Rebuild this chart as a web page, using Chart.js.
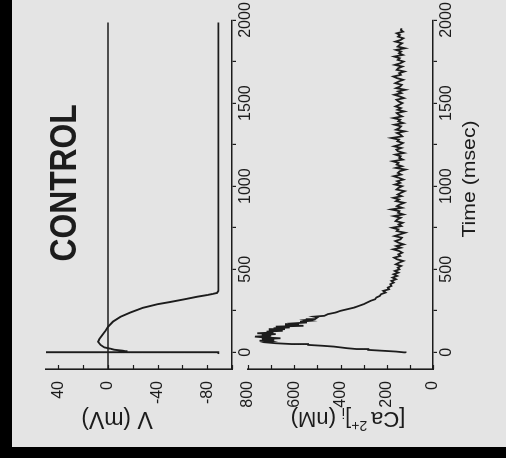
<!DOCTYPE html>
<html>
<head>
<meta charset="utf-8">
<script src="https://cdn.jsdelivr.net/npm/chart.js@4.4.1/dist/chart.umd.min.js"></script>
<style>
  html, body { margin: 0; padding: 0; background: #000; width: 506px; height: 458px; overflow: hidden; }
  /* the figure is laid out upright and then turned a quarter turn */
  #figure {
    position: absolute; left: 0; top: 0;
    width: 447px; height: 494px;
    background: #e4e4e4;
    transform-origin: 0 0;
    transform: translate(12px, 447px) rotate(-90deg);
  }
  #figure canvas { position: absolute; left: 0; top: 0; }
</style>
</head>
<body>
<div id="figure">
  <canvas id="vChart" width="447" height="494"></canvas>
  <canvas id="caChart" width="447" height="494"></canvas>
</div>
<script>
// membrane potential (ms, mV)
var vTime  = [-10, -1, 0, 1, 2, 4, 7, 10, 16, 22, 30, 45, 64, 80, 100, 130, 154, 185, 214, 240, 268, 290, 303, 320, 335, 345, 351, 358, 370, 1985];
var vValue = [-89, -89, 50, 25, -13, -15, -14, -12, -5, -2, 3, 6, 8, 7, 5, 2, 0, -4, -10, -18, -28, -40, -50, -62, -72, -80, -84, -88, -89, -89];

// 0 mV reference line
var zeroTime  = [-100, 1985];
var zeroValue = [0, 0];

// intracellular calcium (ms, nM)
var caTime = [
  -3, 0, 5, 10, 15, 20, 25, 30, 35, 40, 45, 50, 55, 60,
  65, 70, 75, 80, 85, 90, 95, 100, 105, 110, 115, 120, 125, 130, 135, 140,
  145, 150, 155, 160, 165, 170, 175, 180, 185, 190, 195, 200,
  210, 215, 220, 230, 240, 250, 260, 270, 280, 290, 300, 310, 320, 330, 340, 350,
  360, 370, 380, 390, 400, 410, 420, 430, 440, 450, 460, 470, 480, 490, 500,
  510, 520, 530, 540, 550, 560, 570, 580, 590, 600,
  610, 620, 630, 640, 650, 660, 670, 680, 690, 700,
  710, 720, 730, 740, 750, 760, 770, 780, 790, 800,
  810, 820, 830, 840, 850, 860, 870, 880, 890, 900,
  910, 920, 930, 940, 950, 960, 970, 980, 990, 1000,
  1010, 1020, 1030, 1040, 1050, 1060, 1070, 1080, 1090, 1100,
  1110, 1120, 1130, 1140, 1150, 1160, 1170, 1180, 1190, 1200,
  1210, 1220, 1230, 1240, 1250, 1260, 1270, 1280, 1290, 1300,
  1310, 1320, 1330, 1340, 1350, 1360, 1370, 1380, 1390, 1400,
  1410, 1420, 1430, 1440, 1450, 1460, 1470, 1480, 1490, 1500,
  1510, 1520, 1530, 1540, 1550, 1560, 1570, 1580, 1590, 1600,
  1610, 1620, 1630, 1640, 1650, 1660, 1670, 1680, 1690, 1700,
  1710, 1720, 1730, 1740, 1750, 1760, 1770, 1780, 1790, 1800,
  1810, 1820, 1830, 1840, 1850, 1860, 1870, 1880, 1890, 1900,
  1910, 1920, 1930, 1940, 1950
];
var caValue = [
  118, 125, 160, 220, 280, 330, 370, 400, 430, 480, 540, 610, 680, 720,
  700, 750, 690, 740, 660, 730, 770, 700, 740, 680, 760, 690, 720, 650, 710, 640,
  690, 620, 680, 560, 640, 580, 600, 545, 575, 530, 550, 510,
  500, 515, 470, 455, 420, 400, 370, 340, 320, 300, 285, 270, 250, 245, 230, 225,
  205, 215, 190, 195, 180, 185, 170, 180, 160, 175, 155, 170, 150, 165, 145,
  152, 138, 161, 147, 129, 155, 168, 142, 150, 133,
  146, 172, 139, 158, 127, 149, 163, 141, 135, 166,
  144, 121, 157, 150, 176, 137, 148, 131, 162, 154,
  140, 169, 128, 151, 145, 180, 134, 156, 143, 125,
  160, 147, 171, 136, 153, 139, 123, 158, 149, 134,
  165, 142, 155, 128, 147, 170, 138, 152, 144, 119,
  161, 135, 157, 149, 174, 131, 146, 140, 163, 126,
  151, 158, 137, 168, 143, 130, 154, 147, 179, 133,
  141, 156, 122, 160, 145, 138, 166, 129, 150, 142,
  171, 134, 148, 157, 124, 153, 139, 162, 145, 132,
  149, 158, 126, 144, 167, 137, 151, 120, 159, 142,
  135, 163, 148, 129, 155, 171, 139, 146, 124, 157,
  150, 133, 165, 141, 127, 152, 144, 168, 131, 147,
  138, 160, 122, 153, 145, 134, 162, 140, 128, 151,
  143, 157, 130, 139, 136
];

var timeTicks  = [0, 250, 500, 750, 1000, 1250, 1500, 1750, 2000];
var timeLabels = [0, 500, 1000, 1500, 2000];
var vTicks  = [-100, -80, -60, -40, -20, 0, 20, 40];
var vLabels = [-80, -40, 0, 40];
var caTicks  = [0, 100, 200, 300, 400, 500, 600, 700, 800];
var caLabels = [0, 200, 400, 600, 800];

var ink = '#1c1c1c';
var family = '"Liberation Sans", Arial, Helvetica, sans-serif';

function toPoints(xs, ys) {
    var pts = [];
    for (var i = 0; i < xs.length; i++) {
        pts.push({x: xs[i], y: ys[i]});
    }
    return pts;
}

function fixedTicks(list) {
    return function(scale) {
        scale.ticks = list.map(function(v) { return {value: v}; });
    };
}

function labelOnly(list) {
    return function(value) {
        return list.indexOf(value) >= 0 ? String(value) : '';
    };
}

// y axis tick marks point into the plot
var innerTicks = {
    id: 'innerTicks',
    afterDraw: function(chart) {
        var y = chart.scales.y, area = chart.chartArea, ctx = chart.ctx;
        ctx.save();
        ctx.strokeStyle = ink;
        ctx.lineWidth = 1.2;
        y.ticks.forEach(function(t) {
            var py = Math.round(y.getPixelForValue(t.value)) + 0.5;
            ctx.beginPath();
            ctx.moveTo(area.left, py);
            ctx.lineTo(area.left + 4, py);
            ctx.stroke();
        });
        ctx.restore();
    }
};

// axis titles and caption; each item is a row of text pieces
function textPlugin(items) {
    return {
        id: 'panelText',
        afterDraw: function(chart) {
            var ctx = chart.ctx;
            items.forEach(function(item) {
                var x = item.x, y = item.y;
                if (item.dataX !== undefined) {
                    x = chart.scales.x.getPixelForValue(item.dataX);
                    y = chart.scales.y.getPixelForValue(item.dataY);
                }
                ctx.save();
                ctx.fillStyle = ink;
                ctx.textBaseline = 'alphabetic';
                ctx.textAlign = 'left';
                ctx.translate(x, y);
                if (item.rotate) ctx.rotate(item.rotate);
                ctx.scale(item.sx || 1, 1);
                var total = 0;
                item.parts.forEach(function(p) {
                    ctx.font = (p.weight || 'normal') + ' ' + p.size + 'px ' + family;
                    p.w = ctx.measureText(p.text).width;
                    total += p.w;
                });
                var cx = -total / 2;
                item.parts.forEach(function(p) {
                    ctx.font = (p.weight || 'normal') + ' ' + p.size + 'px ' + family;
                    ctx.fillText(p.text, cx, p.dy || 0);
                    cx += p.w;
                });
                ctx.restore();
            });
        }
    };
}

function timeAxis() {
    return {
        type: 'linear',
        min: -100,
        max: 2000,
        afterBuildTicks: fixedTicks(timeTicks),
        afterFit: function(s) { s.height = 24; },
        ticks: {
            autoSkip: false, maxRotation: 0, minRotation: 0, padding: 0,
            color: ink, font: {family: family, size: 16},
            callback: labelOnly(timeLabels)
        },
        grid: { drawOnChartArea: false, drawTicks: true, tickLength: 4, color: ink, lineWidth: 1.2 },
        border: { display: true, color: ink, width: 1.6 }
    };
}

function valueAxis(min, max, ticks, labels) {
    return {
        type: 'linear',
        min: min,
        max: max,
        afterBuildTicks: fixedTicks(ticks),
        afterFit: function(s) { s.width = 40; },
        ticks: {
            autoSkip: false, padding: 4,
            color: ink, font: {family: family, size: 16},
            callback: labelOnly(labels)
        },
        grid: { display: false },
        border: { display: true, color: ink, width: 1.6 }
    };
}

function lineSet(xs, ys, width) {
    return {
        data: toPoints(xs, ys),
        showLine: true,
        borderColor: ink,
        borderWidth: width,
        pointRadius: 0,
        tension: 0
    };
}

var common = {
    responsive: false,
    animation: false,
    devicePixelRatio: 1,
    plugins: { legend: {display: false}, tooltip: {enabled: false} }
};

new Chart(document.getElementById('vChart').getContext('2d'), {
    type: 'scatter',
    data: {
        datasets: [
            lineSet(zeroTime, zeroValue, 1.3),
            lineSet(vTime, vValue, 1.9)
        ]
    },
    options: Object.assign({}, common, {
        layout: { padding: {left: 38, right: 20, top: 34, bottom: 250} },
        scales: {
            x: timeAxis(),
            y: valueAxis(-100, 50, vTicks, vLabels)
        }
    }),
    plugins: [innerTicks, textPlugin([
        { x: 35, y: 105, rotate: -Math.PI / 2, parts: [{text: 'V (mV)', size: 23}] },
        { dataX: 1020, dataY: 26, sx: 0.86, parts: [{text: 'CONTROL', size: 37, weight: 'bold'}] }
    ])]
});

new Chart(document.getElementById('caChart').getContext('2d'), {
    type: 'scatter',
    data: {
        datasets: [
            lineSet(caTime, caValue, 1.8)
        ]
    },
    options: Object.assign({}, common, {
        layout: { padding: {left: 38, right: 20, top: 236, bottom: 49} },
        scales: {
            x: timeAxis(),
            y: valueAxis(0, 800, caTicks, caLabels)
        }
    }),
    plugins: [innerTicks, textPlugin([
        { x: 35, y: 336, rotate: -Math.PI / 2, parts: [
            {text: '[Ca', size: 22},
            {text: ' 2+', size: 14, dy: -9},
            {text: ']', size: 22},
            {text: 'i', size: 14, dy: 4},
            {text: ' (nM)', size: 22}
        ] },
        { x: 268, y: 463, sx: 1.18, parts: [{text: 'Time (msec)', size: 18}] }
    ])]
});
</script>
</body>
</html>
